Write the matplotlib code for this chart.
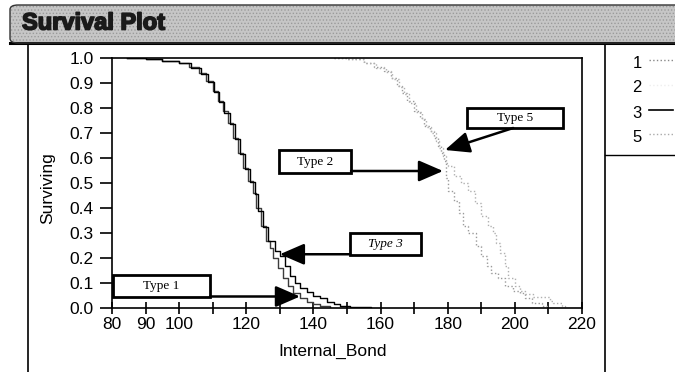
import matplotlib
matplotlib.use("Agg")
import matplotlib.pyplot as plt
from matplotlib.patches import FancyBboxPatch, Rectangle
from matplotlib.lines import Line2D
from matplotlib.patches import ArrowStyle
import matplotlib.patheffects as pe

plt.rcParams['font.family'] = ['Liberation Sans', 'DejaVu Sans']
plt.rcParams['hatch.linewidth'] = 0.6

# ---- data ----
type1_x = [84.5, 90, 95, 100, 103, 106, 108, 110, 111.5, 113, 114.5, 116, 117.5, 119,
           120.5, 122, 123, 124.5, 126, 127, 128, 129.5, 131, 132.5, 134, 136, 138, 140, 142, 145]
type1_s = [1.0, 0.995, 0.99, 0.98, 0.965, 0.94, 0.91, 0.87, 0.83, 0.79, 0.74, 0.68, 0.62, 0.56,
           0.51, 0.46, 0.40, 0.33, 0.27, 0.24, 0.20, 0.16, 0.12, 0.09, 0.06, 0.04, 0.025, 0.015, 0.008, 0.0]

type3_x = [84.5, 90, 95, 100, 103.5, 106.5, 108.5, 110.5, 112, 113.5, 115, 116.5, 118, 119.5,
           121, 122.5, 123.5, 125, 126.5, 128.5, 130, 131.5, 133, 134.5, 136, 138, 140, 142, 144,
           146, 148, 151, 157]
type3_s = [1.0, 0.995, 0.99, 0.98, 0.96, 0.935, 0.905, 0.865, 0.825, 0.78, 0.735, 0.675, 0.615, 0.555,
           0.505, 0.455, 0.39, 0.325, 0.27, 0.23, 0.21, 0.17, 0.13, 0.10, 0.08, 0.065, 0.05, 0.04, 0.025,
           0.015, 0.01, 0.005, 0.0]

type2_x = [146, 150, 155, 158, 161, 163, 165, 166.5, 168, 170, 171.7, 173, 174.7, 176, 177, 178,
           179, 179.5, 180, 182, 183.5, 184.5, 186, 188.5, 190, 191.7, 193, 195, 197, 199.5, 201.5,
           203, 205, 208, 210]
type2_s = [1.0, 0.995, 0.98, 0.965, 0.95, 0.92, 0.89, 0.86, 0.83, 0.79, 0.76, 0.73, 0.71, 0.68, 0.65, 0.62,
           0.59, 0.52, 0.47, 0.43, 0.38, 0.33, 0.30, 0.25, 0.21, 0.17, 0.14, 0.12, 0.09, 0.07, 0.06,
           0.04, 0.02, 0.01, 0.0]

type5_x = [146, 150, 155, 158.5, 161.5, 163.5, 165.5, 167, 168.5, 170.5, 172.2, 173.5, 175, 176.5,
           177.5, 178.5, 179.5, 180, 182, 184, 186, 188, 190, 192, 193.5, 194.5, 195.6, 197, 198,
           200, 201.5, 203, 205.5, 210.5, 211.5, 214, 215]
type5_s = [1.0, 0.995, 0.98, 0.96, 0.945, 0.915, 0.885, 0.855, 0.82, 0.785, 0.755, 0.725, 0.70, 0.67,
           0.64, 0.61, 0.58, 0.57, 0.53, 0.50, 0.47, 0.42, 0.37, 0.33, 0.30, 0.26, 0.22, 0.17, 0.12,
           0.09, 0.07, 0.055, 0.045, 0.03, 0.02, 0.01, 0.0]

legend_labels = ['1', '2', '3', '5']
x_ticks = [80, 90, 100, 110, 120, 130, 140, 150, 160, 170, 180, 190, 200, 210, 220]
x_tick_labels = ['80', '90', '100', '', '120', '', '140', '', '160', '', '180', '', '200', '', '220']
y_ticks = [0.0, 0.1, 0.2, 0.3, 0.4, 0.5, 0.6, 0.7, 0.8, 0.9, 1.0]
y_tick_labels = ['0.0', '0.1', '0.2', '0.3', '0.4', '0.5', '0.6', '0.7', '0.8', '0.9', '1.0']
title = 'Survival Plot'
x_label = 'Internal_Bond'
y_label = 'Surviving'

# annotation labels, box extents (data coords) and arrow start/tip
ann_text = ['Type 1', 'Type 3', 'Type 2', 'Type 5']
ann_box = [(80.3, 0.044, 109.2, 0.132), (150.9, 0.212, 172.0, 0.300),
           (129.7, 0.540, 151.2, 0.632), (185.7, 0.720, 214.3, 0.800)]
ann_from = [(109.2, 0.046), (150.9, 0.215), (151.2, 0.548), (199.5, 0.720)]
ann_to = [(136.0, 0.046), (130.0, 0.215), (178.6, 0.548), (179.2, 0.632)]
ann_style = ['normal', 'italic', 'normal', 'normal']

# ---- figure ----
W, H = 675, 372
fig = plt.figure(figsize=(W / 100, H / 100), dpi=100)
fig.patch.set_facecolor('white')

# title bar (halftone-like grey fill, then outline)
bar_fill = FancyBboxPatch((10 / W, 1 - 43 / H), 1.2, 38 / H,
                          boxstyle='round,pad=0,rounding_size=0.012',
                          transform=fig.transFigure, facecolor='#c6c6c6',
                          edgecolor='#9a9a9a', linewidth=0.0, hatch='.....', zorder=1)
fig.patches.append(bar_fill)
bar_edge = FancyBboxPatch((10 / W, 1 - 43 / H), 1.2, 38 / H,
                          boxstyle='round,pad=0,rounding_size=0.012',
                          transform=fig.transFigure, facecolor='none',
                          edgecolor='#333333', linewidth=1.0, zorder=2)
fig.patches.append(bar_edge)
fig.add_artist(Line2D([10 / W, 1.0], [1 - 43 / H, 1 - 43 / H], transform=fig.transFigure,
                      color='black', linewidth=2.2))
fig.text(22 / W, 1 - 23 / H, title, fontsize=17, fontweight='bold', color='#1a1a1a',
         ha='left', va='center',
         path_effects=[pe.withStroke(linewidth=1.2, foreground='#1a1a1a')])

# frame lines
fig.add_artist(Line2D([28 / W, 28 / W], [0, 1 - 43 / H], transform=fig.transFigure,
                      color='black', linewidth=1.2))
fig.add_artist(Line2D([605 / W, 605 / W], [0, 1 - 43 / H], transform=fig.transFigure,
                      color='black', linewidth=1.2))
fig.add_artist(Line2D([605 / W, 1.0], [1 - 155 / H, 1 - 155 / H], transform=fig.transFigure,
                      color='black', linewidth=1.0))

# legend (manual, in side panel)
leg_y = [63, 88, 113, 137]
leg_styles = [dict(color='#888888', linestyle=':', linewidth=1.0),
              dict(color='#eeeeee', linestyle=':', linewidth=1.0),
              dict(color='black', linestyle='-', linewidth=1.2),
              dict(color='#aaaaaa', linestyle=':', linewidth=1.0)]
for lab, yy, st in zip(legend_labels, leg_y, leg_styles):
    fig.text(637 / W, 1 - yy / H, lab, fontsize=12, ha='center', va='center', color='black')
    fig.add_artist(Line2D([649 / W, 673 / W], [1 - (yy - 3) / H] * 2,
                          transform=fig.transFigure, **st))

# axes
ax = fig.add_axes([112 / W, 1 - 308 / H, 470 / W, 250 / H])
ax.set_xlim(80, 220)
ax.set_ylim(0, 1)

ax.plot(type1_x, type1_s, drawstyle='steps-post', color='#3c3c3c', linewidth=1.0)
ax.plot(type3_x, type3_s, drawstyle='steps-post', color='black', linewidth=1.0)
ax.plot(type2_x, type2_s, drawstyle='steps-post', color='#9a9a9a', linestyle=':', linewidth=1.0)
ax.plot(type5_x, type5_s, drawstyle='steps-post', color='#b0b0b0', linestyle=':', linewidth=1.0)

for txt, (x0, y0, x1, y1), p0, p1, sty in zip(ann_text, ann_box, ann_from, ann_to, ann_style):
    ax.add_patch(Rectangle((x0, y0), x1 - x0, y1 - y0, facecolor='white', edgecolor='black',
                           linewidth=2.0, zorder=4))
    ax.text((x0 + x1) / 2, (y0 + y1) / 2, txt, family=['Liberation Serif', 'DejaVu Serif'],
            fontsize=9.5, style=sty, ha='center', va='center', zorder=5)
    ax.annotate('', xy=p1, xytext=p0,
                arrowprops=dict(arrowstyle=ArrowStyle('-|>', head_length=1.5, head_width=0.65),
                                mutation_scale=10, lw=1.8, color='black',
                                shrinkA=0, shrinkB=0), zorder=6)

ax.set_xticks(x_ticks)
ax.set_xticklabels(x_tick_labels)
ax.set_yticks(y_ticks)
ax.set_yticklabels(y_tick_labels)
ax.tick_params(axis='x', direction='inout', length=9, width=1.2, pad=2, labelsize=12.5)
ax.tick_params(axis='y', direction='out', length=9, width=1.2, pad=4, labelsize=12.5)
for sp in ax.spines.values():
    sp.set_linewidth(1.2)
    sp.set_color('black')

ax.set_xlabel(x_label, fontsize=12.5)
ax.set_ylabel(y_label, fontsize=12.5)
ax.xaxis.set_label_coords(0.47, -0.145)
ax.yaxis.set_label_coords(-0.121, 0.48)

fig.savefig('out.png', dpi=100)
